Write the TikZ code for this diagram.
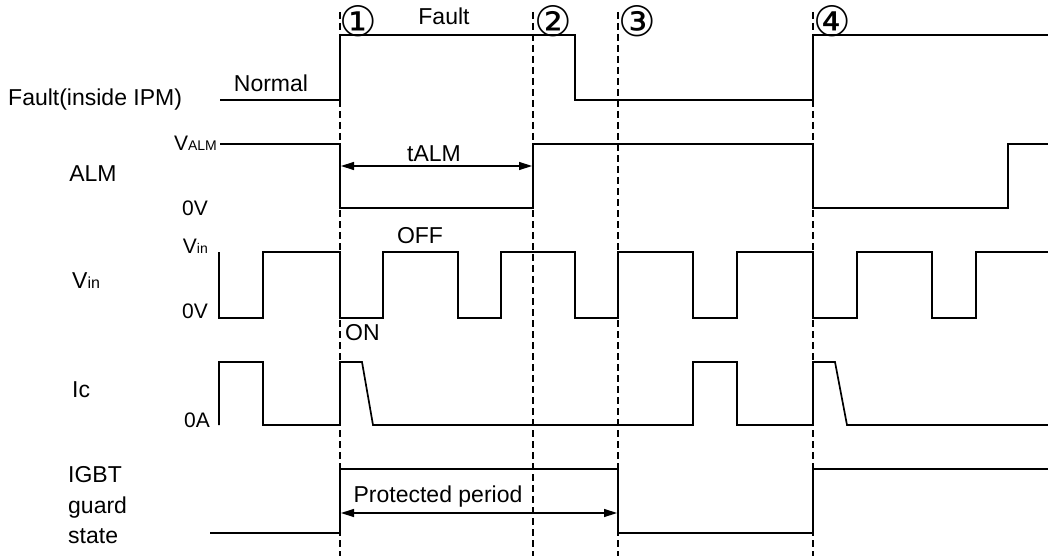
\documentclass[tikz,border=0pt]{standalone}
\usepackage{fontspec}
\setmainfont{Liberation Sans}
\newfontfamily\symfont{DejaVu Sans}
\usetikzlibrary{arrows.meta}
\begin{document}
\begin{tikzpicture}[x=1pt,y=-1pt,
  sig/.style={line width=1.7pt, line join=miter},
  guide/.style={line width=1.8pt, dash pattern=on 7pt off 4pt},
  lbl/.style={font=\fontsize{23}{27}\selectfont, inner sep=0pt, anchor=base},
  axl/.style={font=\fontsize{21}{25}\selectfont, inner sep=0pt, anchor=base east},
  spanarrow/.style={line width=1.4pt, {Triangle[length=13pt,width=8pt]}-{Triangle[length=13pt,width=8pt]}},
  num/.style={font=\symfont\fontsize{42}{44}\selectfont, inner sep=0pt}]
\useasboundingbox (0,0) rectangle (1048,556);
\fill[white] (0,0) rectangle (1048,556);
% guide lines
\foreach \n/\x in {1/340,2/533,3/618,4/813}{
  \coordinate (g\n t) at (\x,12);
  \coordinate (g\n b) at (\x,556);
  \draw[guide] (g\n t) -- (g\n b);
}
% circled numbers
\node[num] (c1) at (358,21) {①};
\node[num] (c2) at (553,21) {②};
\node[num] (c3) at (637,21) {③};
\node[num] (c4) at (832,21) {④};
% Fault
\draw[sig] (220,100) -- (340,100) -- (340,35) -- (575,35) -- (575,100) -- (813,100) -- (813,35) -- (1048,35);
% ALM
\draw[sig] (220,144) -- (340,144) -- (340,208) -- (533,208) -- (533,144) -- (813,144) -- (813,208) -- (1008,208) -- (1008,144) -- (1048,144);
% Vin
\draw[sig] (219,252) -- (219,318) -- (263,318) -- (263,252) -- (340,252) -- (340,318) -- (383,318) -- (383,252) -- (458,252) -- (458,318) -- (501,318) -- (501,252) -- (575,252) -- (575,318) -- (618,318) -- (618,252) -- (693,252) -- (693,318) -- (737,318) -- (737,252) -- (813,252) -- (813,318) -- (857,318) -- (857,252) -- (932,252) -- (932,318) -- (976,318) -- (976,252) -- (1048,252);
% Ic
\draw[sig] (219,425) -- (219,362) -- (263,362) -- (263,425) -- (340,425) -- (340,362) -- (362,362) -- (373,425) -- (693,425) -- (693,362) -- (737,362) -- (737,425) -- (813,425) -- (813,362) -- (835,362) -- (847,425) -- (1048,425);
% IGBT guard state
\draw[sig] (210,533) -- (340,533) -- (340,469) -- (618,469) -- (618,533) -- (813,533) -- (813,469) -- (1048,469);
% span arrows
\coordinate (a1) at (341,166);
\coordinate (a2) at (532,166);
\draw[spanarrow] (a1) -- (a2);
\coordinate (p1) at (341,513);
\coordinate (p2) at (617,513);
\draw[spanarrow] (p1) -- (p2);
% labels
\node[lbl, anchor=base west] (lfault) at (8,106) {Fault(inside IPM)};
\node[lbl] (lnormal) at (271,92) {Normal};
\node[lbl] (lfaulttop) at (444,25) {Fault};
\node[lbl] (lalm) at (93,182) {ALM};
\node[axl] (lvalm) at (217,150) {V{\fontsize{14}{16}\selectfont ALM}};
\node[axl] (l0v1) at (208,215) {0V};
\node[lbl] (ltalm) at (434,162) {tALM};
\node[lbl, anchor=base west] (lvin) at (72,288) {V{\fontsize{16}{18}\selectfont in}};
\node[axl] (lvin2) at (208,253) {V{\fontsize{14}{16}\selectfont in}};
\node[axl] (l0v2) at (208,318) {0V};
\node[lbl] (loff) at (420,243) {OFF};
\node[lbl, anchor=base west] (lon) at (345,340) {ON};
\node[lbl, anchor=base west] (lic) at (72,397) {Ic};
\node[axl] (l0a) at (210,427) {0A};
\node[lbl, anchor=base west] (ligbt) at (68,482) {IGBT};
\node[lbl, anchor=base west] (lguard) at (68,513) {guard};
\node[lbl, anchor=base west] (lstate) at (68,543) {state};
\node[lbl] (lprot) at (438,502) {Protected period};
\end{tikzpicture}
\end{document}
